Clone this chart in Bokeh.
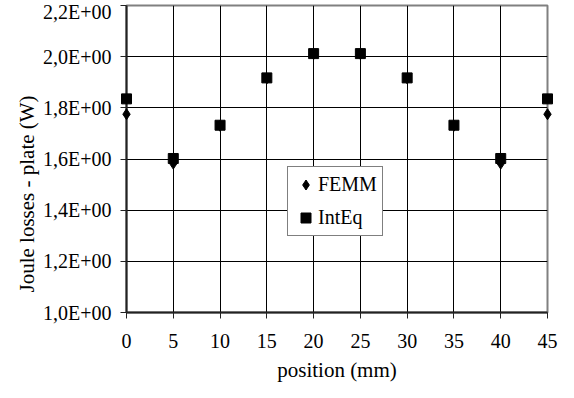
from bokeh.plotting import figure
from bokeh.models import (Range1d, FixedTicker, CustomJSTickFormatter, Legend,
                          LegendItem, Title)
from bokeh.embed import file_html
from bokeh.resources import INLINE

position = [0, 5, 10, 15, 20, 25, 30, 35, 40, 45]
femm = [1.775, 1.582, 1.730, 1.915, 2.010, 2.010, 1.915, 1.730, 1.582, 1.775]
inteq = [1.835, 1.602, 1.732, 1.917, 2.012, 2.012, 1.917, 1.732, 1.602, 1.835]

x_ticks = [0, 5, 10, 15, 20, 25, 30, 35, 40, 45]
y_ticks = [1.0, 1.2, 1.4, 1.6, 1.8, 2.0, 2.2]
y_labels = ["1,0E+00", "1,2E+00", "1,4E+00", "1,6E+00", "1,8E+00", "2,0E+00", "2,2E+00"]

FONT = "Liberation Serif"

p = figure(width=558, height=390, output_backend="svg", toolbar_location=None,
           x_range=Range1d(0, 45), y_range=Range1d(1.0, 2.2),
           min_border_left=126, min_border_right=11, min_border_top=5,
           min_border_bottom=78)
p.background_fill_color = "white"
p.border_fill_color = "white"
p.outline_line_color = "#808080"
p.outline_line_width = 2

# grid
for g in (p.xgrid, p.ygrid):
    g.grid_line_color = "black"
    g.grid_line_width = 1
p.xaxis.ticker = FixedTicker(ticks=x_ticks)
p.yaxis.ticker = FixedTicker(ticks=y_ticks)
p.xgrid.ticker = FixedTicker(ticks=x_ticks)
p.ygrid.ticker = FixedTicker(ticks=y_ticks)

p.yaxis.formatter = CustomJSTickFormatter(args=dict(tvals=y_ticks, tlabels=y_labels), code="""
let best = 0, bd = 1e9;
for (let i = 0; i < tvals.length; i++) {
  const d = Math.abs(tvals[i] - tick);
  if (d < bd) { bd = d; best = i; }
}
return tlabels[best];
""")

for ax in (p.xaxis, p.yaxis):
    ax.axis_line_color = "#222222"
    ax.axis_line_width = 2
    ax.major_tick_line_color = "#222222"
    ax.major_tick_line_width = 1
    ax.major_tick_out = 6
    ax.major_tick_in = 0
    ax.minor_tick_line_color = None
    ax.major_label_text_font = FONT
    ax.major_label_text_font_size = "20px"
    ax.major_label_text_color = "black"
    ax.axis_label_text_font = FONT
    ax.axis_label_text_font_size = "21px"
    ax.axis_label_text_font_style = "normal"
    ax.axis_label_text_color = "black"

p.yaxis.major_label_standoff = 9
p.xaxis.major_label_standoff = 15
p.xaxis.axis_label = "position (mm)"
p.xaxis.axis_label_standoff = 7

ytitle = Title(text="Joule losses - plate (W)", align="left", offset=20,
               text_font=FONT, text_font_size="21px", text_font_style="normal",
               text_color="black", standoff=4)
p.add_layout(ytitle, "left")

r1 = p.scatter(position, femm, marker="diamond", size=11, color="black",
               level="overlay")
r2 = p.scatter(position, inteq, marker="square", size=10, color="black",
               level="overlay")

legend = Legend(items=[LegendItem(label="FEMM", renderers=[r1]),
                       LegendItem(label="IntEq", renderers=[r2])],
                location=(161, 76), padding=5, spacing=8,
                glyph_width=25, glyph_height=25, label_height=25,
                label_standoff=0, margin=0,
                label_text_font=FONT, label_text_font_size="20px",
                label_text_color="black",
                border_line_color="black", border_line_width=1,
                background_fill_color="white", background_fill_alpha=1)
p.add_layout(legend)

open("out.html", "w").write(file_html(p, INLINE))
